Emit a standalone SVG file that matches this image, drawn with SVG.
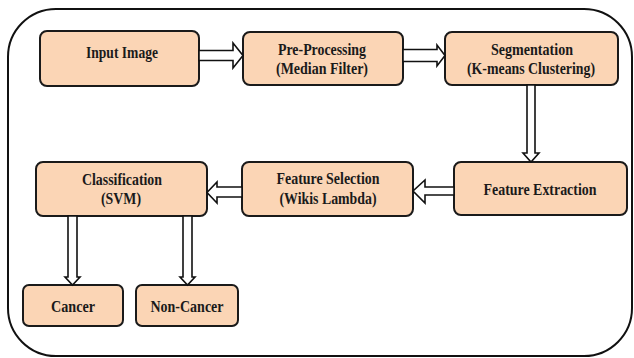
<svg xmlns="http://www.w3.org/2000/svg" width="634" height="358" viewBox="0 0 634 358">
  <style>
    .frame { fill: #ffffff; stroke: #111111; stroke-width: 2; }
    .box { fill: #fbd5b5; stroke: #1a1a1a; stroke-width: 2; }
    .label { font-family: "Liberation Serif", "Times New Roman", serif; font-weight: bold; font-size: 16px; fill: #1a1a1a; text-anchor: middle; }
    .arrow { fill: #ffffff; stroke: #111111; stroke-width: 1.6; stroke-linejoin: miter; }
  </style>

  <rect x="0" y="0" width="634" height="358" fill="#ffffff"/>
  <rect class="frame" x="8" y="9" width="624" height="347" rx="48" ry="48"/>

  <g id="input-image">
    <rect class="box" x="40" y="31" width="159" height="55" rx="7"/>
    <text class="label" x="122" y="58" textLength="72" lengthAdjust="spacingAndGlyphs">Input Image</text>
  </g>

  <g id="pre-processing">
    <rect class="box" x="243" y="32" width="160" height="53" rx="7"/>
    <text class="label" x="322" y="55" textLength="88" lengthAdjust="spacingAndGlyphs">Pre-Processing</text>
    <text class="label" x="322" y="74" textLength="92" lengthAdjust="spacingAndGlyphs">(Median Filter)</text>
  </g>

  <g id="segmentation">
    <rect class="box" x="445" y="32" width="173" height="53" rx="7"/>
    <text class="label" x="532" y="55" textLength="82" lengthAdjust="spacingAndGlyphs">Segmentation</text>
    <text class="label" x="531" y="74" textLength="128" lengthAdjust="spacingAndGlyphs">(K-means Clustering)</text>
  </g>

  <g id="feature-extraction">
    <rect class="box" x="454" y="162" width="173" height="53" rx="7"/>
    <text class="label" x="540" y="195" textLength="113" lengthAdjust="spacingAndGlyphs">Feature Extraction</text>
  </g>

  <g id="feature-selection">
    <rect class="box" x="242" y="162" width="171" height="54" rx="7"/>
    <text class="label" x="328" y="184" textLength="103" lengthAdjust="spacingAndGlyphs">Feature Selection</text>
    <text class="label" x="328" y="204" textLength="97" lengthAdjust="spacingAndGlyphs">(Wikis Lambda)</text>
  </g>

  <g id="classification">
    <rect class="box" x="36" y="162" width="171" height="54" rx="7"/>
    <text class="label" x="122" y="185" textLength="80" lengthAdjust="spacingAndGlyphs">Classification</text>
    <text class="label" x="121" y="204" textLength="40" lengthAdjust="spacingAndGlyphs">(SVM)</text>
  </g>

  <g id="cancer">
    <rect class="box" x="23" y="285" width="100" height="41" rx="6"/>
    <text class="label" x="73" y="312" textLength="44" lengthAdjust="spacingAndGlyphs">Cancer</text>
  </g>

  <g id="non-cancer">
    <rect class="box" x="136" y="285" width="102" height="41" rx="6"/>
    <text class="label" x="187" y="312" textLength="73" lengthAdjust="spacingAndGlyphs">Non-Cancer</text>
  </g>

  <g id="connectors">
    <!-- hollow block arrows between stages -->
    <polygon class="arrow" points="199,50.5 233,50.5 233,43 243,55.5 233,68 233,60.5 199,60.5"/>
    <polygon class="arrow" points="403,49.5 437,49.5 437,45 445,55.5 437,66 437,61.5 403,61.5"/>
    <polygon class="arrow" points="527,85 527,153 523,153 531,162 539,153 535,153 535,85"/>
    <polygon class="arrow" points="454,187 425,187 425,180 413,191 425,203 425,195 454,195"/>
    <polygon class="arrow" points="242,187 217,187 217,182 207,192.5 217,203 217,197 242,197"/>
    <polygon class="arrow" points="68,216 68,277 65,277 72.5,285 80,277 77,277 77,216"/>
    <polygon class="arrow" points="183,216 183,277 180,277 187.5,285 195,277 192,277 192,216"/>
  </g>
</svg>
